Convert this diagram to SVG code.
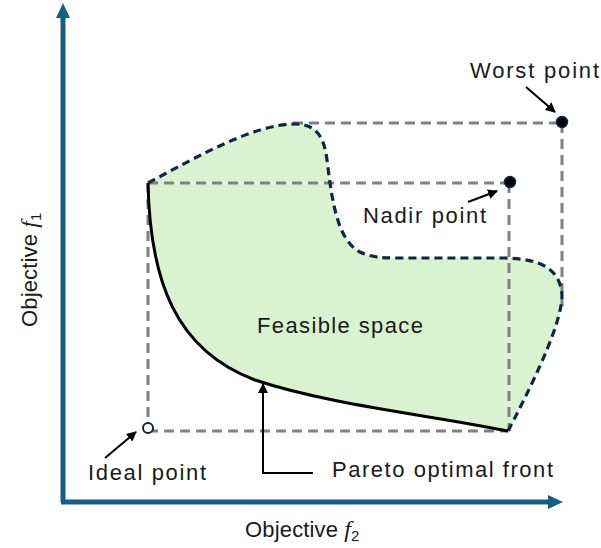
<svg xmlns="http://www.w3.org/2000/svg" width="601" height="548" viewBox="0 0 601 548">
<defs>
<style>
.lbl{font-family:"Liberation Sans",Arial,sans-serif;font-size:22px;fill:#1a1a1a}
.guide{fill:none;stroke:#808080;stroke-width:3;stroke-dasharray:10 6}
.axis{stroke:#156082;stroke-width:5;fill:none}
.ptr{stroke:#000;stroke-width:2;fill:none}
.mf{font-family:"Liberation Serif","DejaVu Serif",serif;font-style:italic}
</style>
<marker id="ah" viewBox="0 0 10 10" refX="9" refY="5" markerWidth="5" markerHeight="5" orient="auto" markerUnits="strokeWidth">
<path d="M0,0 L10,5 L0,10 Z" fill="#000"/>
</marker>
</defs>
<rect width="601" height="548" fill="#fff"/>
<g id="feasible-space">
<path d="M148,183 C200,155 255,124 295,124 C315,124 324,135 327,160 C332,200 337,240 360,252 C372,258 385,258 400,258 L505,258 C540,259 560,268 562,295 C562,320 540,370 508,431 C430,415 330,405 255,380 C175,350 150,280 148,183 Z" fill="#d9f2d0"/>
</g>
<g id="guides">
<path class="guide" d="M293,123 H562 M562,123 V306 M148,183 H510 M509,183 V431 M148,431 H508 M148,183 V431"/>
</g>
<g id="outline">
<path d="M148,183 C200,155 255,124 295,124 C315,124 324,135 327,160 C332,200 337,240 360,252 C372,258 385,258 400,258 L505,258 C540,259 560,268 562,295 C562,320 540,370 508,431" fill="none" stroke="#0e2841" stroke-width="3.2" stroke-dasharray="8 5"/>
</g>
<g id="pareto-front">
<path d="M148,183 C150,280 175,350 255,380 C330,405 430,415 508,431" fill="none" stroke="#000" stroke-width="3"/>
</g>
<g id="axes">
<path class="axis" d="M63,502 V16"/>
<polygon points="63,3 56,18 70,18" fill="#156082"/>
<path class="axis" d="M61,502 H549"/>
<polygon points="563,502 548,495 548,509" fill="#156082"/>
</g>
<g id="worst-point">
<circle cx="562" cy="122" r="5.5" fill="#000" stroke="#0e2841" stroke-width="1.5"/>
<text class="lbl" x="470" y="78" textLength="129">Worst point</text>
</g>
<g id="nadir-point">
<circle cx="510" cy="182" r="5.5" fill="#000" stroke="#0e2841" stroke-width="1.5"/>
<text class="lbl" x="363" y="223" textLength="123">Nadir point</text>
</g>
<g id="ideal-point">
<circle cx="148" cy="428" r="5" fill="#fff" stroke="#0e2841" stroke-width="2"/>
<text class="lbl" x="88" y="480" textLength="118">Ideal point</text>
</g>
<g id="feasible-label">
<text class="lbl" x="257" y="333" textLength="166">Feasible space</text>
</g>
<g id="pareto-label">
<text class="lbl" x="332" y="477" textLength="221">Pareto optimal front</text>
</g>
<g id="connectors">
<path class="ptr" d="M526,87 L555,112" marker-end="url(#ah)"/>
<path class="ptr" d="M468,202 L497,191" marker-end="url(#ah)"/>
<path class="ptr" d="M105,458 L136,432" marker-end="url(#ah)"/>
<path class="ptr" d="M313,473 H263 V384" marker-end="url(#ah)"/>
</g>
<g id="x-label">
<text class="lbl" x="245" y="537"><tspan textLength="93">Objective</tspan> <tspan class="mf" font-size="24">f</tspan><tspan font-size="15" dy="4">2</tspan></text>
</g>
<g id="y-label">
<text class="lbl" transform="translate(37,327) rotate(-90)"><tspan textLength="93">Objective</tspan> <tspan class="mf" font-size="24">f</tspan><tspan font-size="15" dy="4">1</tspan></text>
</g>
</svg>
